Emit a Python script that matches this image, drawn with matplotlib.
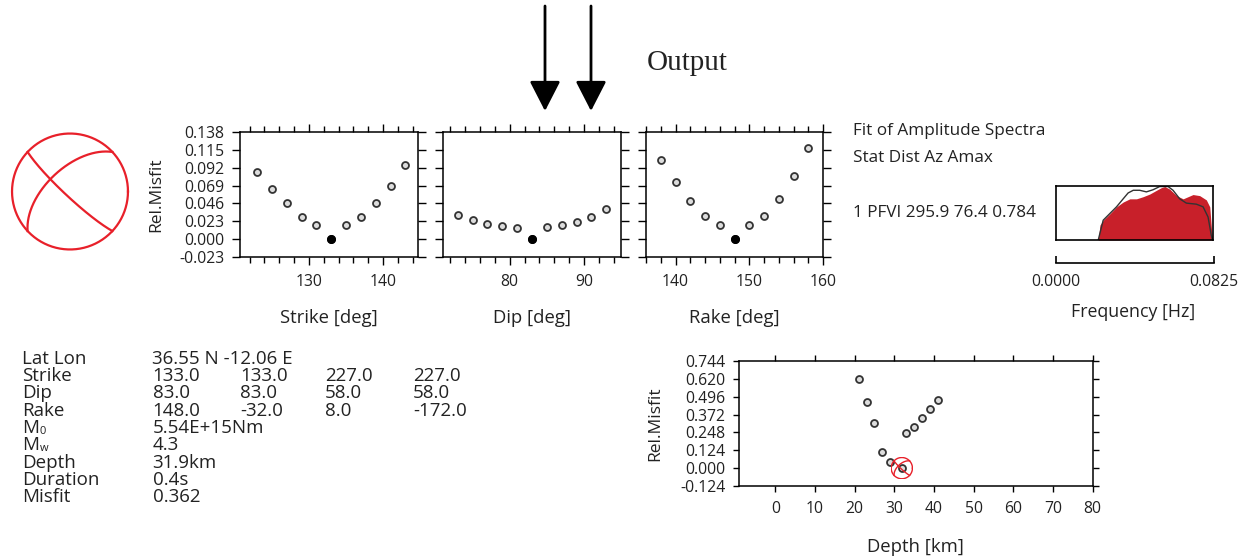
import numpy as np
import matplotlib
matplotlib.use("agg")
import matplotlib.pyplot as plt
from matplotlib.patches import FancyArrowPatch
from matplotlib.ticker import MultipleLocator, FormatStrFormatter

plt.rcParams["font.family"] = ["Open Sans", "DejaVu Sans"]

# ---- data ----
strike_deg = [123, 125, 127, 129, 131, 133, 135, 137, 139, 141, 143]
strike_misfit = [0.086, 0.065, 0.046, 0.029, 0.018, 0.000, 0.018, 0.029, 0.046, 0.069, 0.096]
dip_deg = [73, 75, 77, 79, 81, 83, 85, 87, 89, 91, 93]
dip_misfit = [0.031, 0.025, 0.020, 0.017, 0.0145, 0.000, 0.015, 0.018, 0.0225, 0.029, 0.039]
rake_deg = [138, 140, 142, 144, 146, 148, 150, 152, 154, 156, 158]
rake_misfit = [0.102, 0.073, 0.049, 0.030, 0.018, 0.000, 0.018, 0.030, 0.052, 0.081, 0.117]
misfit_ticks = [-0.023, 0.000, 0.023, 0.046, 0.069, 0.092, 0.115, 0.138]

depth_km = [21, 23, 25, 27, 29, 31.9, 33, 35, 37, 39, 41]
depth_misfit = [0.619, 0.457, 0.315, 0.113, 0.044, 0.000, 0.245, 0.287, 0.350, 0.408, 0.473]
depth_ticks = [-0.124, 0.000, 0.124, 0.248, 0.372, 0.496, 0.620, 0.744]
best_depth = 31.9

obs_freq = [0.0222, 0.0231, 0.0248, 0.0283, 0.0318, 0.0353, 0.0388, 0.0423, 0.0458,
            0.0493, 0.0528, 0.0554, 0.0572, 0.0598, 0.0633, 0.0668, 0.0694, 0.0720,
            0.0755, 0.0790, 0.0808, 0.0816, 0.0822]
obs_amp = [0, 0.28, 0.37, 0.49, 0.62, 0.71, 0.77, 0.77, 0.81, 0.86, 0.93, 0.98, 1.0,
           0.95, 0.83, 0.77, 0.81, 0.85, 0.83, 0.75, 0.62, 0.25, 0]
syn_freq = [0.0222, 0.0248, 0.0318, 0.0353, 0.0379, 0.0406, 0.0440, 0.0475, 0.0510,
            0.0545, 0.0589, 0.0615, 0.0650, 0.0685, 0.0738, 0.0773, 0.0799, 0.0816, 0.0822]
syn_amp = [0, 0.37, 0.62, 0.77, 0.88, 0.93, 0.93, 0.90, 0.94, 1.0, 1.0, 0.93, 0.77,
           0.69, 0.67, 0.62, 0.43, 0.09, 0]

plane_strikes = [133.0, 227.0]
plane_dips = [83.0, 58.0]

table_labels = ["Lat Lon", "Strike", "Dip", "Rake", "M", "M", "Depth", "Duration", "Misfit"]
table_subs = ["", "", "", "", "0", "w", "", "", ""]
table_values = [
    ["36.55 N -12.06 E"],
    ["133.0", "133.0", "227.0", "227.0"],
    ["83.0", "83.0", "58.0", "58.0"],
    ["148.0", "-32.0", "8.0", "-172.0"],
    ["5.54E+15Nm"],
    ["4.3"],
    ["31.9km"],
    ["0.4s"],
    ["0.362"],
]

W, H = 1245, 557
RED = "#e8202a"
TXT = "#222222"
fig = plt.figure(figsize=(W / 100, H / 100), dpi=100)


def rect(x0, y0, x1, y1):
    # pixel box (top-left origin) -> figure fraction
    return [x0 / W, 1 - y1 / H, (x1 - x0) / W, (y1 - y0) / H]


def nodal_line(strike, dip, n=181):
    # lower hemisphere equal-area projection of a nodal plane
    s = np.radians(strike)
    d = np.radians(dip)
    t = np.linspace(0, np.pi, n)
    sv = np.array([np.cos(s), np.sin(s), 0.0])
    dv = np.array([np.cos(d) * np.cos(s + np.pi / 2), np.cos(d) * np.sin(s + np.pi / 2), np.sin(d)])
    v = np.outer(np.cos(t), sv) + np.outer(np.sin(t), dv)
    plunge = np.arcsin(np.clip(v[:, 2], -1, 1))
    trend = np.arctan2(v[:, 1], v[:, 0])
    r = np.sqrt(2) * np.sin((np.pi / 2 - plunge) / 2)
    return r * np.sin(trend), r * np.cos(trend)


def draw_ball(ax, lw):
    th = np.linspace(0, 2 * np.pi, 361)
    ax.plot(np.cos(th), np.sin(th), color=RED, lw=lw)
    for s, d in zip(plane_strikes, plane_dips):
        x, y = nodal_line(s, d)
        ax.plot(x, y, color=RED, lw=lw)
    ax.set_xlim(-1.035, 1.035)
    ax.set_ylim(-1.035, 1.035)
    ax.set_aspect("equal")
    ax.axis("off")


def misfit_axes(box, xs, ys, xlim, xmajor, xlabel, show_y):
    ax = fig.add_axes(rect(*box))
    best = int(np.argmin(ys))
    ax.plot(xs, ys, "o", ms=5, mfc="#dddddd", mec="#333333", mew=1.3, ls="none")
    ax.plot(xs[best], ys[best], "o", ms=5.5, color="black")
    ax.set_xlim(*xlim)
    ax.set_ylim(-0.023, 0.138)
    ax.set_yticks(misfit_ticks)
    ax.yaxis.set_major_formatter(FormatStrFormatter("%.3f"))
    ax.xaxis.set_major_locator(MultipleLocator(xmajor))
    ax.xaxis.set_minor_locator(MultipleLocator(2))
    ax.tick_params(which="both", direction="out", top=True, right=True, width=1,
                   labelsize=11.3, labelcolor=TXT)
    ax.tick_params(which="major", length=5.5)
    ax.tick_params(which="minor", length=4)
    ax.tick_params(axis="x", pad=6.5)
    ax.tick_params(axis="y", pad=5.5, labelleft=show_y)
    for sp in ax.spines.values():
        sp.set_linewidth(1.1)
    ax.text(0.5, -0.49, xlabel, transform=ax.transAxes, ha="center", va="center",
            fontsize=13.3, color=TXT)
    if show_y:
        ax.text(-0.468, 0.5, "Rel.Misfit", transform=ax.transAxes, ha="center",
                va="center", rotation=90, fontsize=12.5, color=TXT)
    return ax


# beachball
ax_bb = fig.add_axes(rect(10, 131.5, 130, 251.5))
draw_ball(ax_bb, 1.6)

misfit_axes((240, 132, 418, 257), strike_deg, strike_misfit, (120.7, 144.7), 10, "Strike [deg]", True)
misfit_axes((443, 132, 621, 257), dip_deg, dip_misfit, (71.0, 95.0), 10, "Dip [deg]", False)
misfit_axes((646, 132, 823, 257), rake_deg, rake_misfit, (136, 160), 10, "Rake [deg]", False)

# spectra
fig.text(853 / W, 1 - 131 / H, "Fit of Amplitude Spectra", fontsize=12.3, va="center", color=TXT)
fig.text(853 / W, 1 - 158 / H, "Stat Dist Az Amax", fontsize=12.3, va="center", color=TXT)
fig.text(853 / W, 1 - 213 / H, "1 PFVI 295.9 76.4 0.784", fontsize=12.3, va="center", color=TXT)

ax_sp = fig.add_axes(rect(1056, 186, 1213, 240))
ax_sp.fill_between(obs_freq, obs_amp, 0, color="#c8202a", lw=0)
ax_sp.plot(syn_freq, syn_amp, color="#333333", lw=1.0)
ax_sp.set_xlim(0, 0.0825)
ax_sp.set_ylim(0, 1.01)
ax_sp.set_xticks([])
ax_sp.set_yticks([])
for sp in ax_sp.spines.values():
    sp.set_linewidth(1.2)

ax_f = fig.add_axes(rect(1056, 250, 1214, 263))
ax_f.set_xlim(0, 0.0825)
ax_f.set_xticks([0, 0.0825])
ax_f.xaxis.set_major_formatter(FormatStrFormatter("%.4f"))
ax_f.set_yticks([])
for k in ["top", "left", "right"]:
    ax_f.spines[k].set_visible(False)
ax_f.spines["bottom"].set_linewidth(1.2)
ax_f.patch.set_alpha(0)
ax_f.tick_params(axis="x", direction="in", length=5, width=1.2, pad=8, labelsize=11.3,
                 labelcolor=TXT)
fig.text(1133 / W, 1 - 312 / H, "Frequency [Hz]", fontsize=12.8, ha="center", va="center",
         color=TXT)

# depth
ax_d = fig.add_axes(rect(738.5, 361, 1092.5, 486))
ax_d.plot(depth_km, depth_misfit, "o", ms=5, mfc="#dddddd", mec="#333333", mew=1.3, ls="none")
ax_d.set_xlim(-9.3, 80)
ax_d.set_ylim(-0.124, 0.744)
ax_d.set_yticks(depth_ticks)
ax_d.yaxis.set_major_formatter(FormatStrFormatter("%.3f"))
ax_d.xaxis.set_major_locator(MultipleLocator(10))
ax_d.tick_params(direction="out", top=True, right=True, length=4.5, width=1, labelsize=11.3,
                 labelcolor=TXT)
ax_d.tick_params(axis="x", pad=6.5)
ax_d.tick_params(axis="y", pad=5)
for sp in ax_d.spines.values():
    sp.set_linewidth(1.1)
ax_d.text(0.5, -0.49, "Depth [km]", transform=ax_d.transAxes, ha="center", va="center",
          fontsize=13.3, color=TXT)
ax_d.text(-0.236, 0.5, "Rel.Misfit", transform=ax_d.transAxes, ha="center", va="center",
          rotation=90, fontsize=12.5, color=TXT)
# mini mechanism at best depth, ~22 px across
bw = 22 / 354 * (80 + 9.3)
bh = 22 / 125 * (0.744 + 0.124)
ax_mini = ax_d.inset_axes([best_depth - bw / 2, 0 - bh / 2, bw, bh], transform=ax_d.transData)
draw_ball(ax_mini, 1.0)

# parameter table
row_y = 359
for lab, sub, vals in zip(table_labels, table_subs, table_values):
    fig.text(22.5 / W, 1 - row_y / H, lab, fontsize=13.5, va="center", color=TXT)
    if sub:
        fig.text(39.5 / W, 1 - (row_y + 3) / H, sub, fontsize=8, va="center", color=TXT)
    for cx, v in zip([152.5, 240, 325, 413], vals):
        fig.text(cx / W, 1 - row_y / H, v, fontsize=13.5, va="center", color=TXT)
    row_y += 17.25

# arrows and title
for ax_x in [545, 591]:
    fig.add_artist(FancyArrowPatch(
        (ax_x / W, 1 - 6 / H), (ax_x / W, 1 - 111 / H), transform=fig.transFigure,
        arrowstyle="-|>,head_length=1.85,head_width=0.95", mutation_scale=10,
        color="black", lw=2.0, shrinkA=0, shrinkB=0))
fig.text(687 / W, 1 - 63 / H, "Output", fontsize=21, ha="center", va="center",
         family="Liberation Serif", color=TXT)

fig.savefig("out.png", dpi=100)
